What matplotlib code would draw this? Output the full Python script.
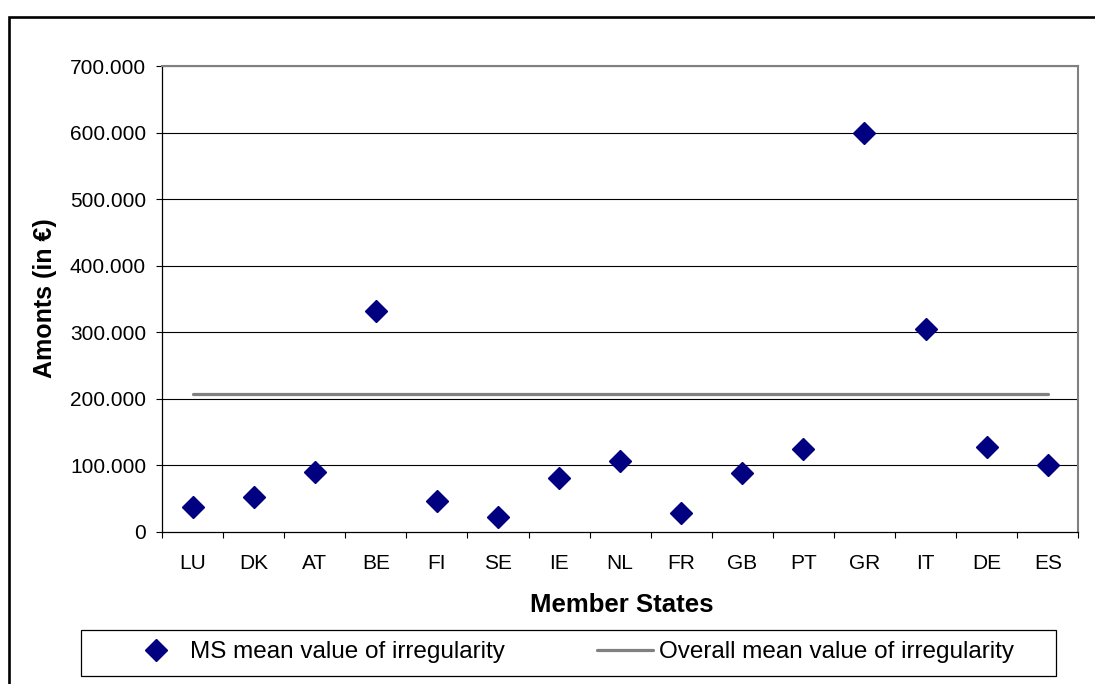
import matplotlib
matplotlib.use('Agg')
import matplotlib.pyplot as plt
from matplotlib.patches import Rectangle
from matplotlib.ticker import FuncFormatter, FixedLocator

# Daten
laender = ['LU', 'DK', 'AT', 'BE', 'FI', 'SE', 'IE', 'NL', 'FR', 'GB', 'PT', 'GR', 'IT', 'DE', 'ES']
ms_mittelwert = [36700, 51700, 89200, 331000, 46100, 22100, 80700, 105700, 28100, 88600,
                 123800, 599000, 305000, 126800, 100200]
gesamt_mittelwert = 207000
y_ticks = [0, 100000, 200000, 300000, 400000, 500000, 600000, 700000]

B, H = 1095, 684


def tausender(wert, pos):
    """Formatiert 700000 als 700.000"""
    if wert == 0:
        return '0'
    return f'{int(wert):,}'.replace(',', '.')


plt.rcParams['font.family'] = ['Liberation Sans', 'DejaVu Sans']

fig = plt.figure(figsize=(B / 100, H / 100), dpi=100)
ax = fig.add_axes([162 / B, (H - 531.7) / H, (1078.3 - 162) / B, (531.7 - 66) / H])

x = list(range(len(laender)))

# Gitterlinien
for t in y_ticks[1:]:
    ax.axhline(t, color='black', lw=0.8, zorder=1)

# Gesamtmittelwert als Linie vom ersten bis zum letzten Land
ax.plot([x[0], x[-1]], [gesamt_mittelwert, gesamt_mittelwert], color='#808080', lw=2.3,
        solid_capstyle='round', zorder=2, label='Overall mean value of irregularity')

# Mittelwerte je Mitgliedsstaat
ax.plot(x, ms_mittelwert, linestyle='none', marker='D', markersize=11.3, color='#000080',
        zorder=3, label='MS mean value of irregularity')

ax.set_xlim(-0.5, len(laender) - 0.5)
ax.set_ylim(0, 700000)
ax.set_yticks(y_ticks)
ax.yaxis.set_major_formatter(FuncFormatter(tausender))
ax.tick_params(axis='y', labelsize=15, length=4.5, width=0.8, pad=7, direction='out')

ax.set_xticks(x)
ax.set_xticklabels(laender)
ax.xaxis.set_minor_locator(FixedLocator([i - 0.5 for i in range(len(laender) + 1)]))
ax.tick_params(axis='x', which='major', labelsize=15, length=0, pad=16)
ax.tick_params(axis='x', which='minor', length=4, width=0.8, direction='out')

for seite in ['left', 'bottom']:
    ax.spines[seite].set_color('black')
    ax.spines[seite].set_linewidth(0.9)
for seite in ['top', 'right']:
    ax.spines[seite].set_color('#808080')
    ax.spines[seite].set_linewidth(1.5)

# Achsentitel
fig.text(622 / B, 1 - 605 / H, 'Member States', fontsize=18.5, fontweight='bold',
         ha='center', va='center')
fig.text(45 / B, 1 - 298 / H, 'Amonts (in €)', fontsize=18, fontweight='bold',
         ha='center', va='center', rotation=90)

# Legende mit eigenem Rahmen
handles, labels = ax.get_legend_handles_labels()
fig.legend(handles[::-1], labels[::-1], ncol=2, loc='center left',
           bbox_to_anchor=(128 / B, 1 - 652 / H), bbox_transform=fig.transFigure,
           frameon=False, borderpad=0, borderaxespad=0, fontsize=17.5,
           handlelength=2.3, handletextpad=0.25, columnspacing=3.8)
fig.patches.append(Rectangle((81 / B, 1 - 676 / H), (1056 - 81) / B, 46 / H,
                             transform=fig.transFigure, fill=False, edgecolor='black', lw=0.9))

# Aeusserer Rahmen
fig.patches.append(Rectangle((8.5 / B, -0.05), 1.1, 1 - 16.5 / H + 0.05,
                             transform=fig.transFigure, fill=False, edgecolor='black', lw=1.9))

plt.savefig('out.png', dpi=100)
plt.close()
